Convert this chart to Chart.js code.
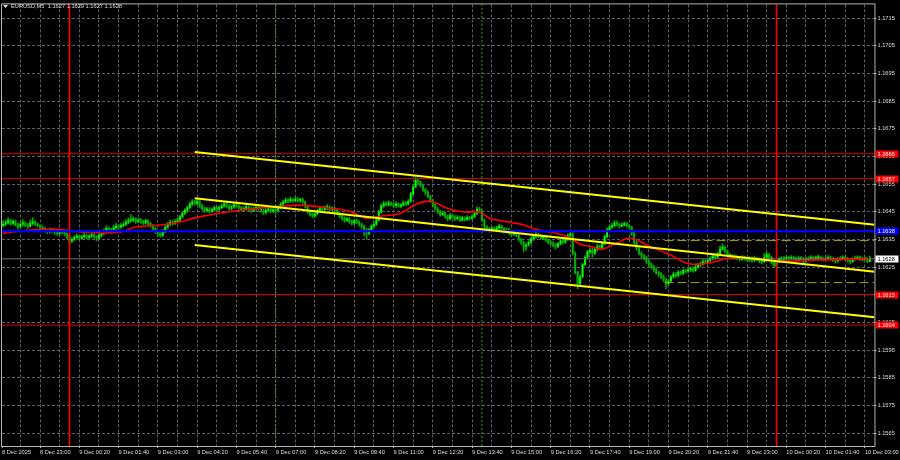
<!DOCTYPE html>
<html>
<head>
<meta charset="utf-8">
<script src="https://cdn.jsdelivr.net/npm/chart.js@4.4.1/dist/chart.umd.min.js"></script>
<style>
html, body { margin: 0; padding: 0; background: #000; }
#wrap { width: 900px; height: 460px; }
</style>
</head>
<body>
<div id="wrap"><canvas id="chart" width="900" height="460"></canvas></div>
<script>
// ---- data ----
var symbolTitle = 'EURUSD,M5  1.1627 1.1629 1.1627 1.1628';

// x is minutes from 9 Dec 00:00, prices in points above 1.16000
var priceBase = 1.16;
var pointSize = 0.00001;
var firstBarMinute = -135;   // 8 Dec 21:45
var barMinutes = 5;
var firstOpen = 400;         // open of the first bar; later opens = previous close

var closes = [
    405,412,418,408,415,402,396,405, 410,402,398,408,414,406,400,395,
    390,382,378,385,380,375,372,378, 376,370,362,345,350,358,362,355,
    360,365,358,362,368,360,355,365, 372,380,390,385,378,392,398,395,
    400,405,412,418,420,425,415,420, 415,410,418,408,400,390,378,370,
    365,380,395,405,412,408,415,420, 432,445,455,465,478,485,480,488,
    470,462,455,460,452,458,465,460, 465,472,478,470,462,468,475,470,
    465,458,462,468,460,455,462,466, 462,455,448,455,460,452,458,455,
    465,478,485,492,488,495,490,496, 490,495,485,470,450,440,435,442,
    455,462,458,465,468,460,462,455, 445,435,428,420,425,415,410,418,
    412,405,398,385,372,385,398,405, 420,450,472,480,475,482,478,472,
    478,470,475,482,478,488,515,540, 565,558,545,530,520,505,490,475,
    460,450,440,445,432,425,438,430, 425,430,420,428,422,430,426,432,
    445,460,452,420,395,388,382,390, 385,392,398,390,380,385,375,370,
    372,365,350,340,325,330,340,352, 360,368,362,355,358,348,340,335,
    330,325,335,345,340,350,365,370, 300,230,190,215,260,285,305,310,
    300,315,325,320,335,360,385,395, 400,410,405,398,402,408,400,395,
    370,340,320,300,290,285,270,260, 250,240,230,225,215,205,190,200,
    215,225,220,232,228,238,235,240, 245,238,250,258,262,270,268,275,
    282,290,285,298,315,322,308,295, 290,285,288,282,278,285,280,276,
    280,275,282,278,272,270,285,295, 285,265,255,270,278,282,280,285,
    282,285,280,278,283,280,272,278, 282,285,280,284,286,280,278,282,
    285,280,276,272,278,282,285,280, 275,270,278,282,285,280,278,282,
    270,280
];
var highs = [
    418,420,428,424,422,419,408,414, 422,414,408,420,428,418,410,404,
    400,395,388,392,390,384,380,386, 384,380,374,366,356,364,370,366,
    366,372,370,368,376,372,364,372, 380,388,400,396,390,402,408,404,
    408,414,422,428,440,432,428,426, 426,420,424,422,412,404,394,382,
    375,386,400,412,420,418,422,428, 438,452,462,472,486,494,492,496,
    492,478,468,466,465,464,472,470, 472,480,486,484,475,474,482,480,
    476,470,468,476,472,466,468,474, 472,466,460,462,468,464,466,462,
    472,484,492,500,498,504,498,504, 502,500,500,490,474,456,446,448,
    460,470,468,472,476,472,468,466, 460,450,440,432,430,430,420,424,
    424,418,410,402,390,390,404,412, 426,456,478,488,486,490,486,482,
    486,482,480,490,488,494,520,548, 576,572,562,550,535,526,510,495,
    480,466,456,452,450,438,444,442, 436,436,435,434,432,436,434,440,
    450,468,466,456,425,400,394,398, 396,398,406,402,394,392,390,380,
    380,378,368,354,344,336,346,358, 366,376,372,368,364,362,352,346,
    342,336,340,350,350,356,370,378, 374,305,236,222,264,292,312,318,
    318,320,332,330,340,366,392,402, 408,418,416,408,410,414,412,404,
    398,376,346,326,306,296,290,278, 266,256,248,236,230,222,210,206,
    220,232,230,238,236,244,242,248, 252,250,256,264,270,278,276,282,
    288,298,294,304,326,334,326,312, 300,296,294,292,288,292,290,284,
    288,286,290,286,284,280,300,304, 300,290,270,276,284,288,288,290,
    290,292,290,286,290,288,284,284, 288,292,290,290,294,290,284,288,
    292,290,284,280,284,288,292,290, 284,280,284,290,292,290,286,288,
    284,290
];
var lows = [
    394,399,405,402,403,398,388,390, 399,396,390,394,402,400,394,388,
    384,376,370,372,374,368,365,366, 370,364,352,335,338,346,352,348,
    350,354,352,350,356,354,346,350, 360,366,374,380,372,374,386,388,
    390,395,400,406,412,414,408,410, 408,404,405,402,394,384,372,362,
    358,360,374,390,400,402,404,410, 414,426,440,448,460,472,474,476,
    466,456,448,450,446,448,454,452, 454,460,466,464,456,456,462,464,
    460,452,452,456,454,448,450,456, 456,448,440,442,450,446,448,448,
    450,460,472,480,482,484,484,486, 484,484,480,464,444,434,428,430,
    438,450,452,452,458,454,454,448, 440,428,420,412,414,408,402,404,
    406,398,390,365,352,366,380,392, 400,416,444,466,470,470,472,466,
    466,466,464,470,472,474,484,510, 536,552,540,524,512,500,484,468,
    455,444,434,436,426,418,420,424, 418,420,414,416,416,418,420,422,
    428,440,446,416,390,380,376,378, 378,380,386,384,374,374,368,362,
    364,360,344,332,305,310,326,334, 346,354,356,350,350,342,334,328,
    324,316,320,330,334,336,346,360, 295,225,172,185,210,256,280,298,
    286,295,308,312,316,330,356,380, 390,394,400,392,394,398,394,388,
    365,334,312,294,282,276,262,252, 244,232,224,216,208,196,172,186,
    195,208,214,214,222,222,228,230, 234,232,234,246,252,256,262,262,
    270,276,280,282,292,310,302,290, 284,280,280,276,272,274,274,270,
    270,268,270,272,266,262,266,280, 280,260,250,252,266,274,274,278,
    278,278,276,272,274,276,266,268, 274,278,276,276,280,276,272,274,
    278,276,270,264,268,274,278,274, 268,262,266,274,278,274,272,276,
    266,270
];

// moving average (red line)
var maMinutes = [-135,-80,-20,0,40,105,135,185,225,255,305,365,430,470,530,570,605,632,675,705,735,775,805,835,855,885,920,950,990,1020,1040,1065,1085,1115,1140,1160,1180,1220,1262,1303,1344,1385,1446,1528,1630];
var maPrices  = [1.16373,1.16384,1.16387,1.16382,1.16375,1.16377,1.16395,1.16402,1.16413,1.16428,1.16445,1.16459,1.16470,1.16474,1.16463,1.16452,1.16427,1.16434,1.16445,1.16477,1.16488,1.16459,1.16449,1.16449,1.16427,1.16416,1.16405,1.16387,1.16373,1.16355,1.16333,1.16323,1.16315,1.16337,1.16355,1.16344,1.16326,1.16297,1.16262,1.16265,1.16283,1.16283,1.16272,1.16276,1.16280];

// yellow channel
var channelMinutes = [255, 1640];
var upperChannel  = [1.16666, 1.16403];
var middleChannel = [1.16499, 1.16233];
var lowerChannel  = [1.16330, 1.16069];

// olive dashed levels on the right
var dashStartMinute = 1212;
var dashLevels = [1.16346, 1.16194];

var redLevels = [1.1666, 1.1657, 1.1615, 1.1604];
var blueLevel = 1.1638;
var bidPrice = 1.1628;
var dayStartMinutes = [0, 1440];
var sessionMinutes = [420, 840];

var priceTicks = [1.1565,1.1575,1.1585,1.1595,1.1605,1.1615,1.1625,1.1635,1.1645,1.1655,1.1665,1.1675,1.1685,1.1695,1.1705,1.1715];
var timeLabelMinutes = [-137.4,-60,20,100,180,260,340,420,500,580,660,740,820,900,980,1060,1140,1220,1300,1380,1460,1540,1620];
var timeLabels = ['8 Dec 2025','8 Dec 23:00','9 Dec 00:20','9 Dec 01:40','9 Dec 03:00','9 Dec 04:20','9 Dec 05:40','9 Dec 07:00','9 Dec 08:20','9 Dec 09:40','9 Dec 11:00','9 Dec 12:20','9 Dec 13:40','9 Dec 15:00','9 Dec 16:20','9 Dec 17:40','9 Dec 19:00','9 Dec 20:20','9 Dec 21:40','9 Dec 23:00','10 Dec 00:20','10 Dec 01:40','10 Dec 03:00'];
var gridStartMinute = -100;
var gridStepMinutes = 40;

var xMin = -137.4, xMax = 1639.5;
var yMin = 1.15603, yMax = 1.17200;

// ---- styles ----
var gridColor = '#5a6068';
var frameColor = '#b4b4b4';
var textColor = '#dcdcdc';
var fontFamily = '"Liberation Sans", Arial, sans-serif';
var fontSize = 5.7;

function toPrice(p) {
    return +(priceBase + p * pointSize).toFixed(5);
}

var wickData = [], bodyData = [], bodyColors = [];
for (var i = 0; i < closes.length; i++) {
    var t = firstBarMinute + i * barMinutes;
    var open = i === 0 ? firstOpen : closes[i - 1];
    wickData.push({ x: t, y: [toPrice(lows[i]), toPrice(highs[i])] });
    bodyData.push({ x: t, y: [toPrice(open), toPrice(closes[i])] });
    bodyColors.push(closes[i] >= open ? '#00ff00' : '#00b000');
}

var maData = maMinutes.map(function (m, i) { return { x: m, y: maPrices[i] }; });

function lineSet(points, color, width, dash, order) {
    return {
        type: 'line', data: points, borderColor: color, borderWidth: width,
        borderDash: dash || [], pointRadius: 0, fill: false, tension: 0, order: order
    };
}
function hLine(price, fromX, color, width, dash, order) {
    return lineSet([{ x: fromX, y: price }, { x: xMax, y: price }], color, width, dash, order);
}
function vLine(minute, color, width, dash, order) {
    return lineSet([{ x: minute, y: yMin }, { x: minute, y: yMax }], color, width, dash, order);
}

var datasets = [
    { type: 'bar', data: wickData, backgroundColor: '#00a800', barThickness: 1, grouped: false, order: 20 },
    { type: 'bar', data: bodyData, backgroundColor: bodyColors, barThickness: 1.3, minBarLength: 1, grouped: false, order: 19 }
];
var ma = lineSet(maData, '#ff0000', 1.6, [], 10);
ma.tension = 0.4;
datasets.push(ma);
datasets.push(hLine(bidPrice, xMin, '#6e6e6e', 1, [], 12));
dashLevels.forEach(function (p) { datasets.push(hLine(p, dashStartMinute, '#a3a300', 1, [9, 4], 9)); });
redLevels.forEach(function (p) { datasets.push(hLine(p, xMin, '#d80000', 1, [], 7)); });
dayStartMinutes.forEach(function (m) { datasets.push(vLine(m, '#ff0000', 1.6, [], 6)); });
sessionMinutes.forEach(function (m) { datasets.push(vLine(m, '#3f9f00', 1, [2, 2], 6)); });
datasets.push(hLine(blueLevel, xMin, '#0000ff', 2.2, [], 3));
[upperChannel, middleChannel, lowerChannel].forEach(function (c) {
    datasets.push(lineSet([{ x: channelMinutes[0], y: c[0] }, { x: channelMinutes[1], y: c[1] }], '#ffff00', 2, [], 2));
});

var overlay = {
    id: 'overlay',
    beforeDraw: function (chart) {
        var ctx = chart.ctx;
        ctx.save();
        ctx.fillStyle = '#000';
        ctx.fillRect(0, 0, chart.width, chart.height);
        ctx.restore();
    },
    afterDraw: function (chart) {
        var ctx = chart.ctx, a = chart.chartArea, ys = chart.scales.y;
        ctx.save();
        ctx.strokeStyle = frameColor;
        ctx.lineWidth = 1;
        ctx.strokeRect(a.left - 0.5, a.top - 0.5, a.right - a.left + 1, a.bottom - a.top + 1);

        ctx.font = fontSize + 'px ' + fontFamily;
        ctx.textBaseline = 'middle';
        function box(price, bg, fg) {
            var py = Math.round(ys.getPixelForValue(price));
            ctx.fillStyle = bg;
            ctx.fillRect(a.right + 1, py - 3.5, 23, 7);
            ctx.fillStyle = fg;
            ctx.fillText(price.toFixed(4), a.right + 3, py + 0.5);
        }
        redLevels.forEach(function (p) { box(p, '#ff0000', '#ffffff'); });
        box(blueLevel, '#0000ff', '#ffffff');
        box(bidPrice, '#ffffff', '#000000');

        // title
        ctx.fillStyle = textColor;
        ctx.beginPath();
        ctx.moveTo(3, 5); ctx.lineTo(8, 5); ctx.lineTo(5.5, 8); ctx.closePath();
        ctx.fill();
        ctx.fillText(symbolTitle, 11, 6.5);
        ctx.restore();
    }
};

new Chart(document.getElementById('chart'), {
    type: 'bar',
    data: { datasets: datasets },
    plugins: [overlay],
    options: {
        responsive: false,
        animation: false,
        events: [],
        layout: { padding: { left: 2, top: 2, right: 0, bottom: 0 } },
        plugins: { legend: { display: false }, tooltip: { enabled: false } },
        scales: {
            x: {
                type: 'linear', min: xMin, max: xMax, offset: false,
                afterBuildTicks: function (scale) {
                    var vals = [timeLabelMinutes[0]];
                    for (var m = gridStartMinute; m <= xMax; m += gridStepMinutes) vals.push(m);
                    scale.ticks = vals.map(function (v) { return { value: v }; });
                },
                afterFit: function (scale) { scale.height = 14; },
                grid: {
                    offset: false,
                    color: function (c) { return c.tick && c.tick.value === timeLabelMinutes[0] ? 'rgba(0,0,0,0)' : gridColor; },
                    tickColor: function (c) { return c.tick && timeLabelMinutes.indexOf(c.tick.value) >= 0 ? frameColor : 'rgba(0,0,0,0)'; },
                    tickLength: 2,
                    lineWidth: 1
                },
                border: { display: false, dash: [3, 2] },
                ticks: {
                    autoSkip: false, maxRotation: 0, minRotation: 0, align: 'start', padding: 1,
                    color: textColor, font: { family: fontFamily, size: fontSize },
                    callback: function (v) {
                        var k = timeLabelMinutes.indexOf(v);
                        return k >= 0 ? timeLabels[k] : '';
                    }
                }
            },
            y: {
                type: 'linear', position: 'right', min: yMin, max: yMax,
                afterBuildTicks: function (scale) {
                    scale.ticks = priceTicks.map(function (v) { return { value: v }; });
                },
                afterFit: function (scale) { scale.width = 25; },
                grid: { color: gridColor, tickColor: frameColor, tickLength: 2, lineWidth: 1 },
                border: { display: false, dash: [3, 2] },
                ticks: {
                    padding: 1, color: textColor, font: { family: fontFamily, size: fontSize },
                    callback: function (v) { return v.toFixed(4); }
                }
            }
        }
    }
});
</script>
</body>
</html>
